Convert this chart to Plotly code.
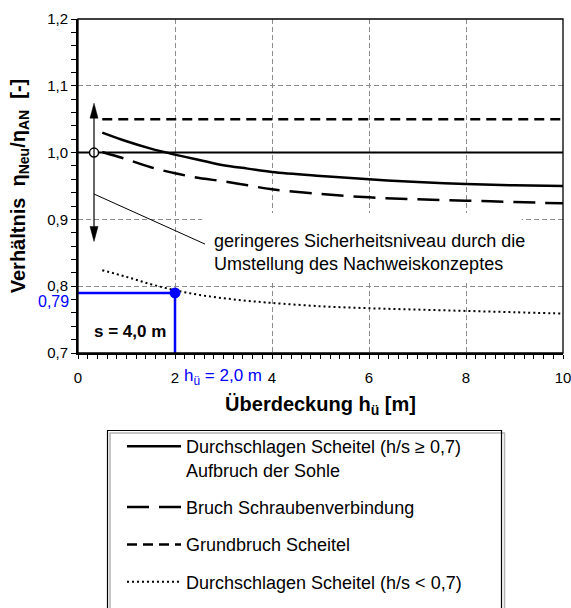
import plotly.graph_objects as go

# ---------------- data ----------------
x_curve = [0.5, 1, 1.5, 2, 2.5, 3, 3.5, 4, 5, 6, 7, 8, 9, 10]
durchschlagen_hoch = [1.030, 1.017, 1.006, 0.997, 0.989, 0.981, 0.976, 0.971, 0.965, 0.960, 0.956, 0.953, 0.951, 0.950]
bruch_schrauben = [1.001, 0.990, 0.978, 0.969, 0.962, 0.957, 0.951, 0.945, 0.938, 0.933, 0.930, 0.928, 0.926, 0.924]
durchschlagen_niedrig = [0.824, 0.814, 0.803, 0.794, 0.787, 0.782, 0.778, 0.775, 0.770, 0.767, 0.765, 0.763, 0.761, 0.759]
x_grundbruch = [0.5, 10]
grundbruch = [1.05, 1.05]
x_sohle = [0, 10]
aufbruch_sohle = [1.0, 1.0]
h_ue_ref = 2.0
eta_ref = 0.79
x_ticks = [0, 2, 4, 6, 8, 10]
y_ticks = [0.7, 0.8, 0.9, 1.0, 1.1, 1.2]
y_ticklabels = ["0,7", "0,8", "0,9", "1,0", "1,1", "1,2"]

names = [
    "Durchschlagen Scheitel (h/s ≥ 0,7)<br>Aufbruch der Sohle",
    "Bruch Schraubenverbindung",
    "Grundbruch Scheitel",
    "Durchschlagen Scheitel (h/s &lt; 0,7)",
]

FONT = "Arial, 'Liberation Sans', sans-serif"
W, H = 571, 608
ML, MR, MT, MB = 78, 8, 19, 255
PW, PH = W - ML - MR, H - MT - MB


def px_x(px):
    """page pixel x -> paper fraction"""
    return (px - ML) / PW


def px_y(py):
    """page pixel y -> paper fraction"""
    return (H - MB - py) / PH


fig = go.Figure()

fig.add_trace(go.Scatter(x=x_curve, y=durchschlagen_hoch, mode="lines", name=names[0],
                         line=dict(color="black", width=2.5, shape="spline"),
                         legendgroup="g1"))
fig.add_trace(go.Scatter(x=x_sohle, y=aufbruch_sohle, mode="lines", name="Aufbruch der Sohle",
                         line=dict(color="black", width=2), legendgroup="g1", showlegend=False,
                         cliponaxis=False))
fig.add_trace(go.Scatter(x=x_curve, y=bruch_schrauben, mode="lines", name=names[1],
                         line=dict(color="black", width=2.5, dash="22px,10px", shape="spline"),
                         legendgroup="g2"))
fig.add_trace(go.Scatter(x=x_grundbruch, y=grundbruch, mode="lines", name=names[2],
                         line=dict(color="black", width=2.5, dash="10px,6px"),
                         legendgroup="g3"))
fig.add_trace(go.Scatter(x=x_curve, y=durchschlagen_niedrig, mode="lines", name=names[3],
                         line=dict(color="black", width=2, dash="2px,3px", shape="spline"),
                         legendgroup="g4"))
# blue read-off lines
fig.add_trace(go.Scatter(x=[0, h_ue_ref, h_ue_ref], y=[eta_ref, eta_ref, 0.7], mode="lines",
                         line=dict(color="#0000FF", width=2.5), showlegend=False, cliponaxis=False))
fig.add_trace(go.Scatter(x=[h_ue_ref], y=[eta_ref], mode="markers",
                         marker=dict(color="#0000FF", size=11), showlegend=False))
# open circle on arrow
fig.add_trace(go.Scatter(x=[0.33], y=[1.0], mode="markers",
                         marker=dict(color="white", size=9, line=dict(color="black", width=1.5)),
                         showlegend=False))

shapes = [
    dict(type="rect", xref="x", yref="y", x0=2.56, x1=9.15, y0=0.805, y1=0.9096,
         fillcolor="white", line=dict(width=0), layer="between"),
    dict(type="line", xref="x", yref="y", x0=0.33, x1=0.33, y0=0.885, y1=1.055,
         line=dict(color="black", width=1.2)),
    dict(type="path", xref="x", yref="y", xsizemode="pixel", ysizemode="pixel",
         xanchor=0.33, yanchor=1.074, path="M0,0 L-4,-15 L4,-15 Z",
         fillcolor="black", line=dict(color="black", width=0.5)),
    dict(type="path", xref="x", yref="y", xsizemode="pixel", ysizemode="pixel",
         xanchor=0.33, yanchor=0.867, path="M0,0 L-4,15 L4,15 Z",
         fillcolor="black", line=dict(color="black", width=0.5)),
    dict(type="line", xref="x", yref="y", x0=0.33, y0=0.938, x1=2.62, y1=0.863,
         line=dict(color="black", width=1)),
    dict(type="rect", xref="paper", yref="paper", x0=0, x1=1, y0=0, y1=1,
         line=dict(color="black", width=1.3)),
    dict(type="rect", xref="paper", yref="paper", x0=px_x(110), x1=px_x(504.5),
         y0=px_y(640), y1=px_y(433), line=dict(color="#b4b4b4", width=1.5), fillcolor="white",
         layer="below"),
    dict(type="rect", xref="paper", yref="paper", x0=px_x(107.5), x1=px_x(501.5),
         y0=px_y(640), y1=px_y(430.5), line=dict(color="black", width=1.2)),
]

annotations = [
    dict(x=2.76, y=0.851, xref="x", yref="y", xanchor="left", yanchor="middle", align="left",
         showarrow=False, text="geringeres Sicherheitsniveau durch die<br>Umstellung des Nachweiskonzeptes",
         font=dict(size=18, color="black", family=FONT)),
    dict(x=0.29, y=0.732, xref="x", yref="y", xanchor="left", yanchor="middle", showarrow=False,
         text="<b>s = 4,0 m</b>", font=dict(size=17, color="black", family=FONT)),
    dict(x=px_x(71), y=0.777, xref="paper", yref="y", xanchor="right", yanchor="middle",
         showarrow=False, text="0,79", font=dict(size=16, color="#0000FF", family=FONT)),
    dict(x=2.15, y=px_y(377), xref="x", yref="paper", xanchor="left", yanchor="middle",
         showarrow=False, text="h<sub>ü</sub> = 2,0 m", font=dict(size=17, color="#0000FF", family=FONT)),
]

fig.update_layout(
    width=W, height=H,
    margin=dict(l=ML, r=MR, t=MT, b=MB, autoexpand=False),
    paper_bgcolor="white", plot_bgcolor="white",
    font=dict(family=FONT, size=15, color="black"),
    shapes=shapes, annotations=annotations,
    showlegend=True,
    legend=dict(x=px_x(122), y=px_y(428), xanchor="left", yanchor="top",
                bgcolor="rgba(0,0,0,0)", borderwidth=0,
                font=dict(size=18, family=FONT, color="black"),
                itemwidth=54, valign="top", traceorder="grouped", tracegroupgap=11),
)

fig.update_xaxes(
    range=[0, 10], tickvals=x_ticks, ticktext=[str(v) for v in x_ticks],
    ticks="outside", ticklen=4, tickwidth=1, tickcolor="black",
    minor=dict(dtick=0.2, ticks="outside", ticklen=4, tickcolor="black", showgrid=False),
    showline=True, linecolor="black", linewidth=2,
    showgrid=True, gridcolor="#8c8c8c", gridwidth=1, griddash="5px,3px",
    zeroline=False, tickfont=dict(size=15), ticklabelstandoff=6, ticklabeloverflow="allow",
    title=dict(text="<b>Überdeckung h<sub>ü</sub> [m]</b>", font=dict(size=20), standoff=12),
)
fig.update_yaxes(
    range=[0.7, 1.2], tickvals=y_ticks, ticktext=y_ticklabels,
    ticks="outside", ticklen=5, tickwidth=1, tickcolor="black",
    minor=dict(dtick=0.02, ticks="outside", ticklen=5, tickcolor="black", showgrid=False),
    showline=True, linecolor="black", linewidth=2,
    showgrid=True, gridcolor="#8c8c8c", gridwidth=1, griddash="5px,3px",
    zeroline=False, tickfont=dict(size=15),
    title=dict(text="<b>Verhältnis  η<sub>Neu</sub>/η<sub>AN</sub>  [-]</b>", font=dict(size=20), standoff=16),
)

# remove the browser's default 8px page margin so the figure sits at the window's origin
fig.write_html("out.html", config=dict(displayModeBar=False),
               post_script="document.body.style.margin = '0px';")
